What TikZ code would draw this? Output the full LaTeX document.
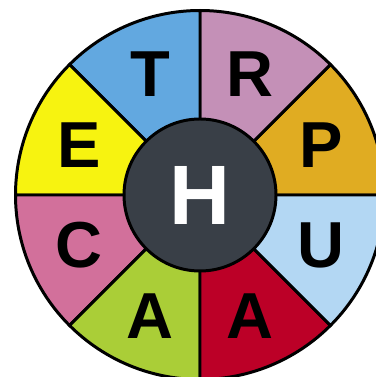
\documentclass[tikz,border=0pt]{standalone}
\usepackage{fontspec}
\setsansfont{Liberation Sans}
\usetikzlibrary{positioning, calc}
\definecolor{cblue}{HTML}{62A8E0}
\definecolor{cmauve}{HTML}{C490B7}
\definecolor{cgold}{HTML}{E0AC22}
\definecolor{csky}{HTML}{B3D7F3}
\definecolor{cred}{HTML}{BC0027}
\definecolor{cgreen}{HTML}{AACE37}
\definecolor{cpink}{HTML}{D2709B}
\definecolor{cyellow}{HTML}{F7F310}
\definecolor{chub}{HTML}{393F47}
\tikzset{
  every picture/.style={font=\sffamily\bfseries, line width=1.7pt},
  wedge/.style={draw=black, fill=#1, line join=round},
  letter/.style={font=\sffamily\bfseries\fontsize{37}{37}\selectfont, text=black, inner sep=0pt},
  hub/.style={circle, draw=black, fill=chub, minimum size=3.04cm, inner sep=0pt, text=white, font=\sffamily\bfseries\fontsize{48}{48}\selectfont},
}
\begin{document}
\begin{tikzpicture}
  \useasboundingbox (0,0) rectangle (7.5,7.54);
  \coordinate (o) at (4.0,3.64);
  \foreach \a/\c/\t/\n in {0/cgold/P/p, 45/cmauve/R/r, 90/cblue/T/t, 135/cyellow/E/e, 180/cpink/C/c, 225/cgreen/A/ag, 270/cred/A/ar, 315/csky/U/u} {
    \draw[wedge=\c] (o) -- ++(\a:3.69) arc[start angle=\a, end angle=\a+45, radius=3.69] -- cycle;
    \node[letter] (\n) at ($(o)+(\a+22.5:2.62)$) {\t};
  }
  \node[hub] (h) at (o) {H};
\end{tikzpicture}
\end{document}
